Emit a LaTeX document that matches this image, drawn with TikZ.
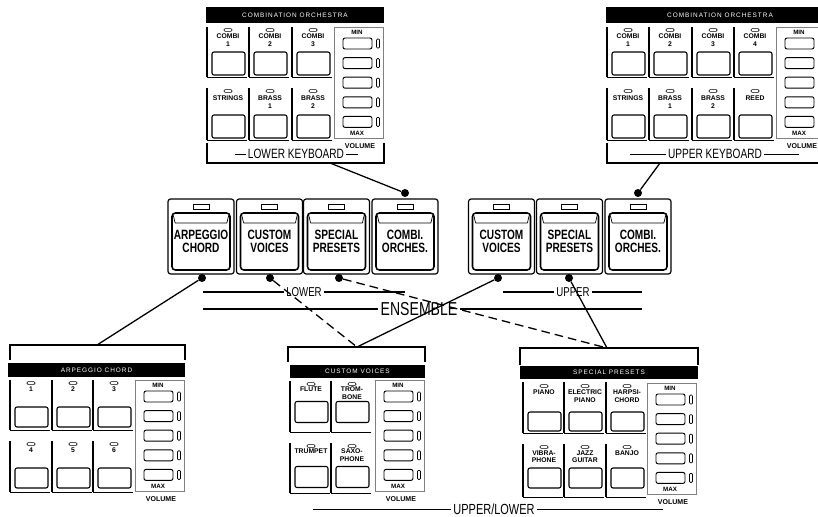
\documentclass[tikz,border=0pt]{standalone}
\usepackage{fontspec}
\setmainfont{Liberation Sans}
\newfontfamily\capfont{Liberation Sans}[FakeStretch=0.75]
\newfontfamily\barfont{Liberation Sans}[LetterSpace=15]
\usepackage{tikz}
\usetikzlibrary{calc}

\begin{document}
\begin{tikzpicture}[x=0.3mm, y=-0.3mm,
    bar/.style={fill=black, text=white, inner sep=0, minimum height=4.8mm,
                font=\barfont\fontsize{5.5}{6}\selectfont},
    lbl/.style={anchor=north, inner sep=0, align=center,
                font=\bfseries\fontsize{5.8}{6}\selectfont},
    vtxt/.style={inner sep=0, font=\bfseries\fontsize{5.3}{6}\selectfont},
    led/.style={draw, rounded corners=.3mm, line width=.5pt, inner sep=0,
                minimum width=2.4mm, minimum height=.8mm},
    key/.style={draw, rounded corners=.6mm, line width=.9pt, inner sep=0,
                minimum width=9.9mm, minimum height=6.6mm},
    vkey/.style={draw, rounded corners=.6mm, line width=.8pt, inner sep=0,
                 minimum width=8.7mm, minimum height=3.3mm},
    vled/.style={draw, rounded corners=.3mm, line width=.6pt, inner sep=0,
                 minimum width=.9mm, minimum height=2.7mm},
    colv/.style={line width=1.6pt},
    colh/.style={line width=.8pt},
    brk/.style={line width=1.1pt},
    tab/.style={draw, rounded corners=.8mm, line width=1pt, inner sep=0,
                minimum width=19.8mm, minimum height=22.5mm},
    tabled/.style={draw, line width=.8pt, inner sep=0,
                   minimum width=4.8mm, minimum height=1.5mm},
    tabcap/.style={draw, rounded corners=1mm, line width=1.3pt, inner sep=0,
                minimum width=17.4mm, minimum height=17.1mm, align=center,
                font=\capfont\bfseries\fontsize{11.5}{11}\selectfont,
                path picture={\draw[line width=.6pt]
                  ([xshift=.3mm,yshift=-.5mm]path picture bounding box.north west)
                  to[out=-70,in=180] ([xshift=2mm,yshift=-3mm]path picture bounding box.north west)
                  -- ([xshift=-2mm,yshift=-3mm]path picture bounding box.north east)
                  to[out=0,in=-110] ([xshift=-.3mm,yshift=-.5mm]path picture bounding box.north east);}},
    dot/.style={circle, fill, inner sep=0, minimum size=2.4mm},
    conn/.style={line width=1.1pt},
    dconn/.style={line width=1.1pt, dash pattern=on 2.6mm off 1.5mm},
    rule/.style={line width=1.1pt},
    cond/.style={inner sep=.6mm, font=\capfont\fontsize{11}{12}\selectfont}
]
\useasboundingbox (0,0) rectangle (818,517);
\clip (0,0) rectangle (818,517);

%% Lower keyboard combination panel
\node[bar, minimum width=53.4mm] (tl-bar) at (295,15) {COMBINATION ORCHESTRA};
\foreach \x/\a/\b [count=\i] in {207/{COMBI\\1}/STRINGS, 249/{COMBI\\2}/{BRASS\\1},
                                 292/{COMBI\\3}/{BRASS\\2}} {
  \draw[colv] (\x,27) -- (\x,77);  \draw[colh] (\x,77) -- (\x+40,77);
  \draw[colv] (\x,88) -- (\x,140); \draw[colh] (\x,140) -- (\x+40,140);
  \node[led] (tl-la\i) at (\x+21,30) {};
  \node[lbl] (tl-ta\i) at (\x+21,34) {\a};
  \node[key, minimum height=6.9mm] (tl-ka\i) at (\x+21.5,63.5) {};
  \node[led] (tl-lb\i) at (\x+21,91) {};
  \node[lbl] (tl-tb\i) at (\x+21,96) {\b};
  \node[key, minimum height=6.9mm] (tl-kb\i) at (\x+21.5,126.5) {};
}
\draw[brk] (207,143) -- (207,163) -- (384,163) -- (384,143);
\node[cond, font=\capfont\fontsize{11.5}{12}\selectfont] (tl-kbd) at (296,154) {LOWER KEYBOARD};
\draw[colh] (tl-kbd.west) -- ++(-11,0);
\draw[colh] (tl-kbd.east) -- ++(12,0);
\coordinate (tlb) at (330,163);

%% Upper keyboard combination panel
\node[bar, minimum width=68.4mm] (tr-bar) at (720,15) {COMBINATION ORCHESTRA};
\foreach \x/\a/\b [count=\i] in {607/{COMBI\\1}/STRINGS, 649/{COMBI\\2}/{BRASS\\1},
                                 692/{COMBI\\3}/{BRASS\\2}, 734/{COMBI\\4}/REED} {
  \draw[colv] (\x,27) -- (\x,77);  \draw[colh] (\x,77) -- (\x+40,77);
  \draw[colv] (\x,88) -- (\x,140); \draw[colh] (\x,140) -- (\x+40,140);
  \node[led] (tr-la\i) at (\x+21,30) {};
  \node[lbl] (tr-ta\i) at (\x+21,34) {\a};
  \node[key, minimum height=6.9mm] (tr-ka\i) at (\x+21.5,63.5) {};
  \node[led] (tr-lb\i) at (\x+21,91) {};
  \node[lbl] (tr-tb\i) at (\x+21,96) {\b};
  \node[key, minimum height=6.9mm] (tr-kb\i) at (\x+21.5,126.5) {};
}
\draw[brk] (607,143) -- (607,163) -- (834,163) -- (834,143);
\node[cond, font=\capfont\fontsize{11.5}{12}\selectfont] (tr-kbd) at (715,154) {UPPER KEYBOARD};
\draw[colh] (tr-kbd.west) -- ++(-36,0);
\draw[colh] (tr-kbd.east) -- ++(35,0);
\coordinate (trb) at (660,163);

%% Arpeggio chord panel
\draw[brk] (10,360) -- (10,345) -- (185,345) -- (185,360);
\node[bar, minimum width=53.1mm, minimum height=4.2mm] (ap-bar) at (96.5,370) {ARPEGGIO CHORD};
\foreach \x/\a/\b [count=\i] in {10/1/4, 52/2/5, 93/3/6} {
  \draw[colv] (\x,380) -- (\x,430); \draw[colh] (\x,430) -- (\x+40,430);
  \draw[colv] (\x,441) -- (\x,492); \draw[colh] (\x,492) -- (\x+40,492);
  \node[led] (ap-la\i) at (\x+21,383) {};
  \node[lbl] (ap-ta\i) at (\x+21,387) {\a};
  \node[key, minimum height=6mm] (ap-ka\i) at (\x+21.5,417) {};
  \node[led] (ap-lb\i) at (\x+21,444) {};
  \node[lbl] (ap-tb\i) at (\x+21,448) {\b};
  \node[key, minimum height=6mm] (ap-kb\i) at (\x+21.5,478) {};
}
\coordinate (apb) at (97,345);

%% Custom voices panel
\draw[brk] (288,362) -- (288,347) -- (425,347) -- (425,362);
\node[bar, minimum width=40.5mm, minimum height=4mm] (cv-bar) at (357.5,371.5) {CUSTOM VOICES};
\foreach \x/\a/\b [count=\i] in {290/FLUTE/TRUMPET, 331/{TROM-\\BONE}/{SAXO-\\PHONE}} {
  \draw[colv] (\x,381) -- (\x,432); \draw[colh] (\x,432) -- (\x+40,432);
  \draw[colv] (\x,443) -- (\x,493); \draw[colh] (\x,493) -- (\x+40,493);
  \node[led] (cv-la\i) at (\x+21,384) {};
  \node[lbl] (cv-ta\i) at (\x+21,387) {\a};
  \node[key, minimum height=6.3mm] (cv-ka\i) at (\x+21.5,412) {};
  \node[led] (cv-lb\i) at (\x+21,446) {};
  \node[lbl] (cv-tb\i) at (\x+21,449) {\b};
  \node[key, minimum height=6.3mm] (cv-kb\i) at (\x+21.5,477) {};
}
\coordinate (cvb) at (357,347);

%% Special presets panel
\draw[brk] (520,365) -- (520,348) -- (698,348) -- (698,365);
\node[bar, minimum width=53.4mm, minimum height=4mm] (sp-bar) at (609,372.5) {SPECIAL PRESETS};
\foreach \x/\a/\b [count=\i] in {523/PIANO/{VIBRA-\\PHONE}, 564/{ELECTRIC\\PIANO}/{JAZZ\\GUITAR},
                                 606/{HARPSI-\\CHORD}/BANJO} {
  \draw[colv] (\x,382) -- (\x,433); \draw[colh] (\x,433) -- (\x+40,433);
  \draw[colv] (\x,444) -- (\x,497); \draw[colh] (\x,497) -- (\x+40,497);
  \node[led] (sp-la\i) at (\x+21,386) {};
  \node[lbl] (sp-ta\i) at (\x+21,390) {\a};
  \node[key, minimum height=5.7mm] (sp-ka\i) at (\x+21.5,421.5) {};
  \node[led] (sp-lb\i) at (\x+21,447) {};
  \node[lbl] (sp-tb\i) at (\x+21,451) {\b};
  \node[key, minimum height=6mm] (sp-kb\i) at (\x+21.5,478) {};
}
\coordinate (spb) at (607,348);

%% Volume sections
\foreach \vx/\vy/\n in {334/27/tl, 776/27/tr, 135/380/ap, 375/380/cv, 647/383/sp} {
  \draw[gray, line width=.5pt] (\vx,\vy) rectangle (\vx+49,\vy+111);
  \node[vtxt] (\n-min) at (\vx+23,\vy+5) {MIN};
  \foreach \k in {0,...,4} {
    \node[vkey] (\n-vk\k) at (\vx+23.5,\vy+16.5+19.6*\k) {};
    \node[vled] (\n-vl\k) at (\vx+44,\vy+16.5+19.6*\k) {};
  }
  \node[vtxt] (\n-max) at (\vx+23,\vy+106) {MAX};
  \node[vtxt, font=\bfseries\fontsize{6}{7}\selectfont] (\n-vol) at (\vx+26,\vy+119) {VOLUME};
}

%% Tab switches
\foreach \cx/\t/\n in {201/{ARPEGGIO\\CHORD}/lar, 269.5/{CUSTOM\\VOICES}/lcv,
                       336.5/{SPECIAL\\PRESETS}/lsp, 405/{COMBI.\\ORCHES.}/lco,
                       501.5/{CUSTOM\\VOICES}/ucv, 569.5/{SPECIAL\\PRESETS}/usp,
                       638/{COMBI.\\ORCHES.}/uco} {
  \node[tab] (\n) at (\cx,236.5) {};
  \node[tabled] (\n-led) at (\cx,207) {};
  \node[tabcap] (\n-cap) at (\cx,241.5) {\t};
}

%% Section rules
\node[cond] (lowtxt) at (304,292) {LOWER};
\node[cond] (upptxt) at (573,292) {UPPER};
\node[cond, font=\capfont\fontsize{16}{17}\selectfont] (enstxt) at (419,309) {ENSEMBLE};
\node[cond, font=\capfont\fontsize{12.5}{13}\selectfont] (ultxt) at (494,509) {UPPER/LOWER};
\coordinate (lowl) at (203,292); \coordinate (lowr) at (405,292);
\coordinate (uppl) at (503,292); \coordinate (uppr) at (642,292);
\coordinate (ensl) at (203,309); \coordinate (ensr) at (642,309);
\coordinate (ull)  at (313,509); \coordinate (ulr)  at (663,509);
\draw[rule] (lowl) -- (lowtxt.west) (lowtxt.east) -- (lowr);
\draw[rule] (uppl) -- (upptxt.west) (upptxt.east) -- (uppr);
\draw[rule] (ensl) -- (enstxt.west) (enstxt.east) -- (ensr);
\draw[colh] (ull) -- (ultxt.west) (ultxt.east) -- (ulr);

%% Connection dots
\node[dot] (dar)  at (202,278) {};
\node[dot] (dlcv) at (270,278) {};
\node[dot] (dlsp) at (339,278) {};
\node[dot] (dlco) at (405,193) {};
\node[dot] (ducv) at (498,278) {};
\node[dot] (dusp) at (569,278) {};
\node[dot] (duco) at (638,193) {};

%% Connectors
\draw[conn] (dlco) -- (tlb);
\draw[conn] (duco) -- (trb);
\draw[conn] (dar) -- (apb);
\draw[dconn] (dlcv) -- (cvb);
\draw[conn] (ducv) -- (cvb);
\draw[dconn] (dlsp) -- (spb);
\draw[conn] (dusp) -- (spb);

\end{tikzpicture}
\end{document}
